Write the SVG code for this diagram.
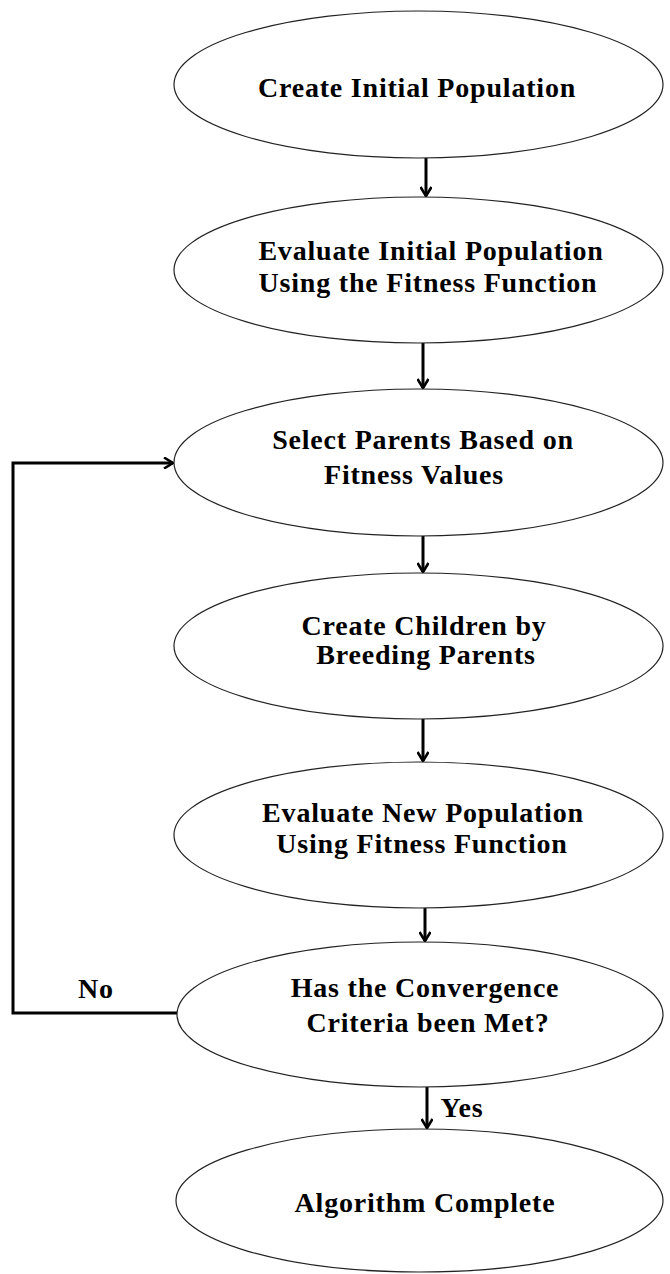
<svg xmlns="http://www.w3.org/2000/svg" width="670" height="1274" viewBox="0 0 670 1274">
<defs>
<style>
.node{fill:#fff;stroke:#222;stroke-width:1.2}
.lbl{font-family:"Liberation Serif","Times New Roman",serif;font-weight:bold;font-size:28px;letter-spacing:0.8px;fill:#000;text-anchor:middle}
.edge{fill:none;stroke:#000;stroke-width:3}
</style>
<marker id="arr" viewBox="0 0 12 12" refX="10" refY="6" markerWidth="12" markerHeight="12" markerUnits="userSpaceOnUse" orient="auto">
<path d="M1,0.5 L10,6 L1,11.5" fill="none" stroke="#000" stroke-width="2.6"/>
</marker>
</defs>
<rect width="670" height="1274" fill="#fff"/>
<g id="connectors">
<line class="edge" x1="426" y1="158" x2="426" y2="196" marker-end="url(#arr)"/>
<line class="edge" x1="423" y1="343" x2="423" y2="388" marker-end="url(#arr)"/>
<line class="edge" x1="423" y1="536" x2="423" y2="572" marker-end="url(#arr)"/>
<line class="edge" x1="423" y1="719" x2="423" y2="761" marker-end="url(#arr)"/>
<line class="edge" x1="425" y1="908" x2="425" y2="941" marker-end="url(#arr)"/>
<line class="edge" x1="427" y1="1087" x2="427" y2="1128" marker-end="url(#arr)"/>
<polyline class="edge" points="177,1013 13,1013 13,463 173,463" marker-end="url(#arr)"/>
<text class="lbl" x="96" y="998">No</text>
<text class="lbl" x="462" y="1117">Yes</text>
</g>
<g id="n1">
<ellipse class="node" cx="418.5" cy="84.5" rx="244.5" ry="73.5"/>
<text class="lbl" x="417" y="97">Create Initial Population</text>
</g>
<g id="n2">
<ellipse class="node" cx="418.5" cy="270" rx="244.5" ry="73"/>
<text class="lbl" x="431" y="260">Evaluate Initial Population</text>
<text class="lbl" x="428" y="292">Using the Fitness Function</text>
</g>
<g id="n3">
<ellipse class="node" cx="418.5" cy="462.5" rx="244.5" ry="73.5"/>
<text class="lbl" x="423" y="449">Select Parents Based on</text>
<text class="lbl" x="414" y="484">Fitness Values</text>
</g>
<g id="n4">
<ellipse class="node" cx="418.5" cy="646" rx="244.5" ry="73"/>
<text class="lbl" x="424" y="635">Create Children by</text>
<text class="lbl" x="426" y="664">Breeding Parents</text>
</g>
<g id="n5">
<ellipse class="node" cx="418.5" cy="835" rx="244.5" ry="73"/>
<text class="lbl" x="423" y="822">Evaluate New Population</text>
<text class="lbl" x="422" y="853">Using Fitness Function</text>
</g>
<g id="n6">
<ellipse class="node" cx="420" cy="1014.5" rx="243" ry="72.5"/>
<text class="lbl" x="425" y="997">Has the Convergence</text>
<text class="lbl" x="428" y="1032">Criteria been Met?</text>
</g>
<g id="n7">
<ellipse class="node" cx="419.5" cy="1200.5" rx="243.5" ry="71.5"/>
<text class="lbl" x="425" y="1212">Algorithm Complete</text>
</g>
</svg>
